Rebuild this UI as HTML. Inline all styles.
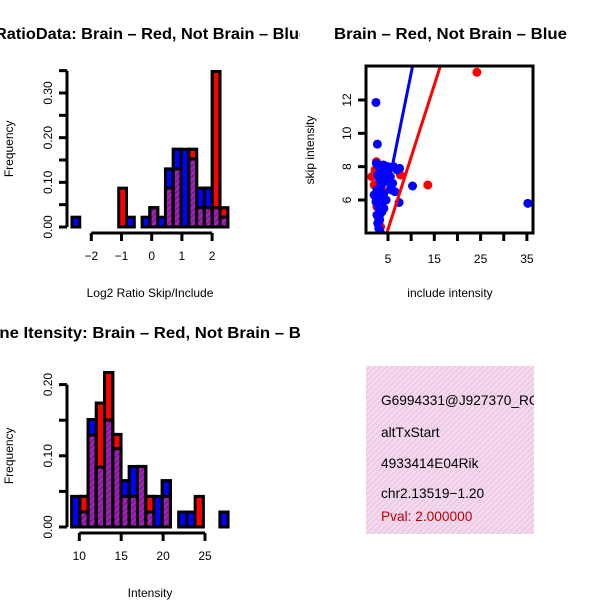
<!DOCTYPE html>
<html><head><meta charset="utf-8"><style>
html,body{margin:0;padding:0;background:#fff;}
svg{display:block;font-family:"Liberation Sans",Arial,sans-serif;}
</style></head><body>
<svg id="chart" width="600" height="600" viewBox="0 0 600 600" xmlns="http://www.w3.org/2000/svg">
<defs>
<pattern id="purp" patternUnits="userSpaceOnUse" width="4" height="4" patternTransform="rotate(45)">
<rect width="4" height="4" fill="#a820c0"/><rect width="1.6" height="4" fill="#7a1a8a"/>
</pattern>
<pattern id="pink" patternUnits="userSpaceOnUse" width="4" height="4" patternTransform="rotate(45)">
<rect width="4" height="4" fill="#f8d8f0"/><rect width="1.5" height="4" fill="#e6cce0"/>
</pattern>
<clipPath id="clipL"><rect x="0" y="0" width="300" height="600"/></clipPath>
<clipPath id="clipBox"><rect x="366" y="66" width="167" height="167"/></clipPath>
<clipPath id="clipPanel"><rect x="366" y="366" width="168" height="168"/></clipPath>
</defs>
<g id="h1"></g>
<g id="sc"></g>
<g id="h2"></g>
<g clip-path="url(#clipPanel)">
<rect x="366" y="366" width="168" height="168" fill="url(#pink)"/>
<text x="381" y="405" font-size="13.7">G6994331@J927370_RC</text>
<text x="381" y="437" font-size="13.7">altTxStart</text>
<text x="381" y="468" font-size="13.7">4933414E04Rik</text>
<text x="381" y="498" font-size="13.7">chr2.13519−1.20</text>
<text x="381" y="521" font-size="13.7" fill="#c00000">Pval: 2.000000</text>
</g>
</svg>
<script>
// ---- Histogram 1 data (log2 ratio) ----
const h1Start = -2.64;
const h1Width = 0.258;
const h1Red  = [0,0,0,0,0,0,0.087,0,0,0,0.043,0,0.087,0.13,0,0.174,0.043,0.043,0.348,0.043];
const h1Blue = [0.022,0,0,0,0,0,0,0.022,0,0.022,0.043,0.022,0.13,0.174,0.174,0.152,0.087,0.087,0.043,0.022];
const h1XTicks = [-2,-1,0,1,2];
const h1YTicks = [0,0.05,0.10,0.15,0.20,0.25,0.30,0.35];
const h1YLabels = ["0.00","","0.10","","0.20","","0.30",""];
// ---- Histogram 2 data (intensity) ----
const h2Start = 9.08;
const h2Width = 0.983;
const h2Red  = [0,0.043,0.129,0.174,0.217,0.13,0.043,0.043,0.085,0.043,0,0.043,0,0,0,0.043,0,0,0];
const h2Blue = [0.043,0.021,0.151,0.084,0.15,0.11,0.065,0.085,0.085,0.021,0.043,0.065,0,0.021,0.021,0,0,0,0.021];
const h2XTicks = [10,15,20,25];
const h2YTicks = [0,0.05,0.10,0.15,0.20];
const h2YLabels = ["0.00","","0.10","","0.20"];
// ---- Scatter data ----
const redX = [1.5,2.2,2.5,2.0,2.8,3.0,3.4,5.0,4.2,7.7,13.6,24.2,2.6,3.2];
const redY = [7.4,7.8,8.3,6.9,4.6,5.0,4.4,7.2,6.5,7.5,6.9,13.66,5.6,7.0];
const blueX = [2.4,2.7,10.3,35.2,7.4,2.5,3.0,3.5,4.0,4.5,5.0,5.5,6.0,6.5,7.0,7.5,2.8,3.2,3.6,4.2,2.2,2.6,3.0,3.4,3.8,2.4,2.9,3.3,3.7,4.1,2.6,3.0,3.4,2.8,3.2,3.0,3.3,5.8,4.6,2.0,6.2,3.6];
const blueY = [11.85,9.35,6.84,5.8,5.85,8.2,8.0,7.9,8.1,7.6,8.0,7.4,7.0,6.5,7.8,7.9,7.5,7.2,6.9,7.1,6.3,6.6,6.2,6.8,6.4,5.9,5.6,5.8,5.3,5.5,5.1,4.9,5.2,4.6,4.8,4.3,4.1,6.6,6.0,6.3,8.0,7.3];
const blueLine = {a:-0.09, b:1.37};
const redLine = {a:-0.09, b:0.866};
const scXTicks = [5,10,15,20,25,30,35];
const scXLabels = ["5","","15","","25","","35"];
const scYTicks = [6,8,10,12];

const NS="http://www.w3.org/2000/svg";
function mk(parent,tag,attrs){const e=document.createElementNS(NS,tag);for(const k in attrs)e.setAttribute(k,attrs[k]);parent.appendChild(e);return e;}
function txt(parent,x,y,s,attrs){const t=mk(parent,'text',Object.assign({x:x,y:y},attrs));t.textContent=s;return t;}

function drawHist(gid,start,w,red,blue,xTicks,yTicks,yLabels,xs,ys,yAxisX,xAxisY,xLabel,title,titleX,titleY,titleLen){
  const g=document.getElementById(gid);
  const y0=ys(0);
  for(let i=0;i<red.length;i++){
    const x1=xs(start+i*w), x2=xs(start+(i+1)*w);
    const r=red[i], b=blue[i];
    if(r>0){const e=mk(g,'rect',{x:x1,y:ys(r),width:x2-x1,height:y0-ys(r),fill:'#ff0000',stroke:'#000','stroke-width':3});
      
      }
    if(b>0){const e=mk(g,'rect',{x:x1,y:ys(b),width:x2-x1,height:y0-ys(b),fill:'#0000ff',stroke:'#000','stroke-width':3});
      
      }
    const m=Math.min(r,b);
    if(m>0){const e=mk(g,'rect',{x:x1,y:ys(m),width:x2-x1,height:y0-ys(m),fill:'url(#purp)',stroke:'#000','stroke-width':3});
      
      }
    if(r>0&&b>0){const hi=Math.max(r,b);const e=mk(g,'rect',{x:x1,y:ys(hi),width:x2-x1,height:y0-ys(hi),fill:'none',stroke:'#000','stroke-width':3});
      
      }
  }
  const ya=mk(g,'g',{});
  
  
  mk(ya,'line',{x1:yAxisX,x2:yAxisX,y1:ys(yTicks[0]),y2:ys(yTicks[yTicks.length-1]),stroke:'#000','stroke-width':3});
  yTicks.forEach((v,i)=>{mk(ya,'line',{x1:yAxisX-8,x2:yAxisX,y1:ys(v),y2:ys(v),stroke:'#000','stroke-width':3});
    if(yLabels[i]){const t=txt(ya,0,0,yLabels[i],{'font-size':12,'text-anchor':'middle',transform:`translate(${yAxisX-15},${ys(v)}) rotate(-90)`});
      
      }});
  const yt=txt(ya,0,0,'Frequency',{'font-size':12,'text-anchor':'middle',transform:`translate(13,${(ys(yTicks[0])+ys(yTicks[yTicks.length-1]))/2}) rotate(-90)`});
  
  
  const xa=mk(g,'g',{});
  
  
  mk(xa,'line',{x1:xs(xTicks[0]),x2:xs(xTicks[xTicks.length-1]),y1:xAxisY,y2:xAxisY,stroke:'#000','stroke-width':3});
  xTicks.forEach(v=>{mk(xa,'line',{x1:xs(v),x2:xs(v),y1:xAxisY,y2:xAxisY+8,stroke:'#000','stroke-width':3});
    const t=txt(xa,xs(v),xAxisY+27,String(v).replace('-','−'),{'font-size':12,'text-anchor':'middle'});
    
    });
  const xt=txt(xa,150,xAxisY+64,xLabel,{'font-size':12,'text-anchor':'middle'});
  
  
  const cg=mk(g,'g',{'clip-path':'url(#clipL)'});
  const tt=txt(cg,titleX,titleY,title,{'font-size':16,'font-weight':'bold',textLength:titleLen,lengthAdjust:'spacingAndGlyphs'});
  
  
}

drawHist('h1',h1Start,h1Width,h1Red,h1Blue,h1XTicks,h1YTicks,h1YLabels,
  v=>151.7+v*30.2, v=>227-v*446.7, 67, 233, 'Log2 Ratio Skip/Include','RatioData: Brain – Red, Not Brain – Blue',-5,39,313);
drawHist('h2',h2Start,h2Width,h2Red,h2Blue,h2XTicks,h2YTicks,h2YLabels,
  v=>79.3+(v-10)*8.38, v=>527-v*712, 67, 533, 'Intensity','Gene Itensity: Brain – Red, Not Brain – Blue',-23,338,348);

(function(){
  const g=document.getElementById('sc');
  const xs=v=>388+(v-5)*4.63, ys=v=>200-(v-6)*16.67;
  const pts=mk(g,'g',{'clip-path':'url(#clipBox)'});
  
  
  redX.forEach((x,i)=>{const c=mk(pts,'circle',{cx:xs(x),cy:ys(redY[i]),r:4.5,fill:'#ff0000'});
    
    });
  blueX.forEach((x,i)=>{const c=mk(pts,'circle',{cx:xs(x),cy:ys(blueY[i]),r:4.5,fill:'#0000ff'});
    
    });
  [[blueLine,'#0000ff','fit-line-blue'],[redLine,'#ff0000','fit-line-red']].forEach(([L,col,nm])=>{
    const yA=4.0,yB=14.1;const xA=(yA-L.a)/L.b,xB=(yB-L.a)/L.b;
    const l=mk(pts,'line',{x1:xs(xA),y1:ys(yA),x2:xs(xB),y2:ys(yB),stroke:col,'stroke-width':3});
    
    });
  const box=mk(g,'rect',{x:366,y:66,width:167,height:167,fill:'none',stroke:'#000','stroke-width':3});
  
  
  scXTicks.forEach((v,i)=>{mk(g,'line',{x1:xs(v),x2:xs(v),y1:233,y2:241,stroke:'#000','stroke-width':3});
    if(scXLabels[i]){const t=txt(g,xs(v),263,scXLabels[i],{'font-size':12,'text-anchor':'middle'});
      
      }});
  scYTicks.forEach(v=>{mk(g,'line',{x1:358,x2:366,y1:ys(v),y2:ys(v),stroke:'#000','stroke-width':3});
    const t=txt(g,0,0,String(v),{'font-size':12,'text-anchor':'middle',transform:`translate(351,${ys(v)}) rotate(-90)`});
    
    });
  const xt=txt(g,450,297,'include intensity',{'font-size':12,'text-anchor':'middle'});
  
  
  const yt=txt(g,0,0,'skip intensity',{'font-size':12,'text-anchor':'middle',transform:'translate(314,150) rotate(-90)'});
  
  
  const tt=txt(g,334,39,'Brain – Red, Not Brain – Blue',{'font-size':16,'font-weight':'bold',textLength:233,lengthAdjust:'spacingAndGlyphs'});
  
  
})();
</script>
</body></html>
